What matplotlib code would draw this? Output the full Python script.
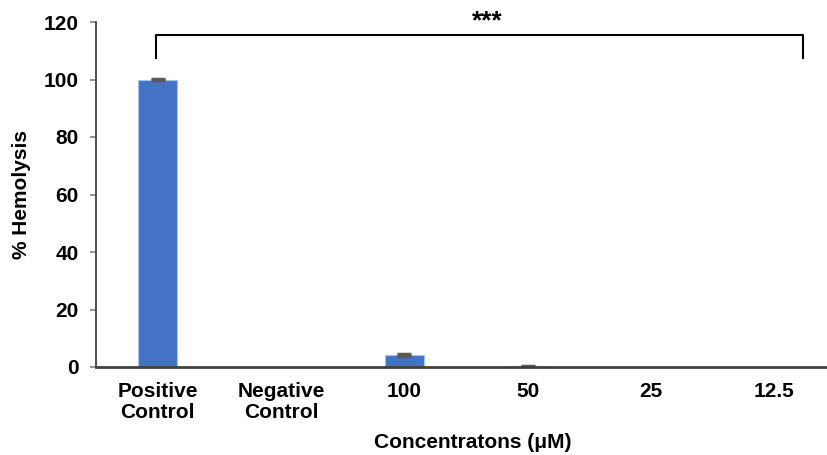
import matplotlib
matplotlib.use("Agg")
import matplotlib.pyplot as plt
import numpy as np

categories = ["Positive\nControl", "Negative\nControl", "100", "50", "25", "12.5"]
hemolysis = [100.0, 0.0, 4.2, 0.2, -0.2, -0.6]
errors = [0.3, 0.0, 0.3, 0.15, 0.0, 0.0]
yticks = [0, 20, 40, 60, 80, 100, 120]

plt.rcParams['font.family'] = ['Liberation Sans', 'DejaVu Sans']
plt.rcParams['font.weight'] = 'bold'
FS = 15

fig = plt.figure(figsize=(8.27, 4.55), dpi=100)
ax = fig.add_axes([96/827, 1-367/455, 740/827, 345/455])

x = np.arange(len(categories))
ax.bar(x, hemolysis, width=0.32, color='#4472C4', edgecolor='#A9C1EA', linewidth=0.8, zorder=2)
err = np.array(errors)
mask = err > 0
ax.errorbar(x[mask], np.array(hemolysis)[mask], yerr=err[mask], fmt='none', ecolor='#595959',
            elinewidth=1.5, capsize=5, capthick=2.5, zorder=3)

ax.set_xlim(-0.5, len(categories) - 0.5)
ax.set_ylim(0, 120)
ax.set_yticks(yticks)
ax.set_xticks(x)
ax.set_xticklabels(categories, fontsize=FS, fontweight='bold', linespacing=1.1)
ax.tick_params(axis='x', length=0, pad=11)
ax.tick_params(axis='y', length=4.5, width=1.2, color='#808080', pad=8, labelsize=FS)
for lab in ax.get_yticklabels():
    lab.set_fontweight('bold')

for s in ['top', 'right']:
    ax.spines[s].set_visible(False)
ax.spines['left'].set_color('#404040')
ax.spines['left'].set_linewidth(1.3)
ax.spines['bottom'].set_color('#404040')
ax.spines['bottom'].set_linewidth(2.0)
ax.spines['bottom'].set_zorder(4)

ax.set_ylabel('% Hemolysis', fontsize=FS, fontweight='bold')
ax.yaxis.set_label_coords(-0.088, 0.5)
ax.set_xlabel('Concentratons (μM)', fontsize=FS, fontweight='bold')
ax.xaxis.set_label_coords(0.509, -0.19)

# significance bracket
bx0, bx1 = -0.01, 5.23
by0, by1 = 107.5, 115.5
ax.plot([bx0, bx0, bx1, bx1], [by0, by1, by1, by0], color='black', lw=1.5,
        solid_joinstyle='round', clip_on=False, zorder=5)
ax.text(2.67, 120.3, '***', ha='center', va='center', fontsize=19, fontweight='bold',
        clip_on=False)

fig.savefig('out.png', dpi=100)
